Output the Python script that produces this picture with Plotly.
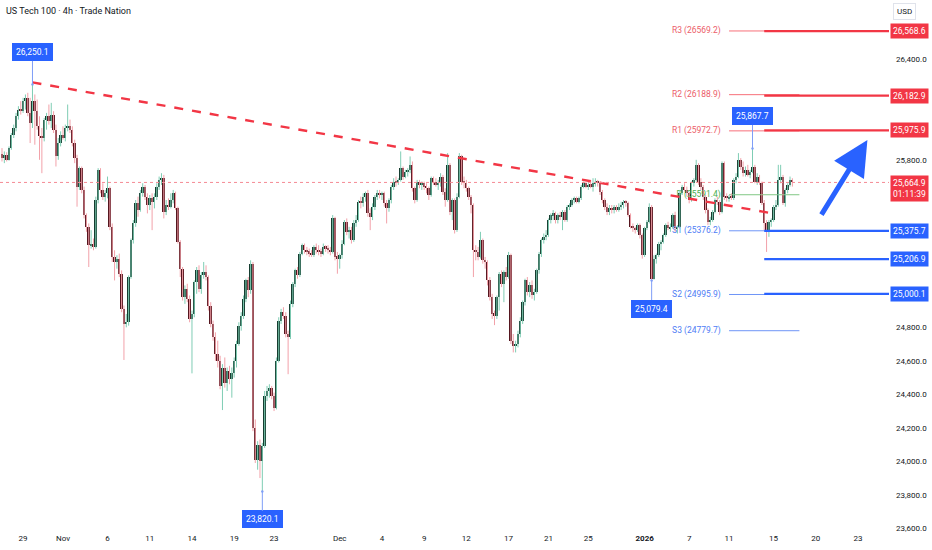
import plotly.graph_objects as go

# ---- calendar (4h bars per session day, Sunday evening bar counts as its own day)
days = ["Oct 27", "Oct 28", "Oct 29", "Oct 30", "Oct 31", "Nov 2",
        "Nov 3", "Nov 4", "Nov 5", "Nov 6", "Nov 7", "Nov 9",
        "Nov 10", "Nov 11", "Nov 12", "Nov 13", "Nov 14", "Nov 16",
        "Nov 17", "Nov 18", "Nov 19", "Nov 20", "Nov 21", "Nov 23",
        "Nov 24", "Nov 25", "Nov 26", "Nov 27", "Nov 28", "Nov 30",
        "Dec 1", "Dec 2", "Dec 3", "Dec 4", "Dec 5", "Dec 7",
        "Dec 8", "Dec 9", "Dec 10", "Dec 11", "Dec 12", "Dec 14",
        "Dec 15", "Dec 16", "Dec 17", "Dec 18", "Dec 19", "Dec 21",
        "Dec 22", "Dec 23", "Dec 24", "Dec 25", "Dec 26", "Dec 28",
        "Dec 29", "Dec 30", "Dec 31", "Jan 1", "Jan 2", "Jan 4",
        "Jan 5", "Jan 6", "Jan 7", "Jan 8", "Jan 9", "Jan 11",
        "Jan 12", "Jan 13", "Jan 14", "Jan 15", "Jan 16", "Jan 18",
        "Jan 19", "Jan 20", "Jan 21", "Jan 22", "Jan 23"]
bars_per_day = [3, 6, 6, 6, 5, 1,
                6, 6, 6, 6, 5, 1,
                6, 6, 6, 6, 5, 1,
                6, 6, 6, 6, 5, 1,
                6, 6, 6, 4, 4, 1,
                6, 6, 6, 6, 5, 1,
                6, 6, 6, 6, 5, 1,
                6, 6, 6, 6, 5, 1,
                6, 6, 4, 1, 5, 1,
                6, 6, 5, 1, 5, 1,
                6, 6, 6, 6, 5, 1,
                6, 6, 6, 6, 5, 1,
                6, 6, 6, 6, 5]

tick_days = ["Oct 29", "Nov 2", "Nov 6", "Nov 11", "Nov 14", "Nov 19", "Nov 23",
             "Dec 1", "Dec 4", "Dec 9", "Dec 12", "Dec 17", "Dec 21", "Dec 25",
             "Jan 1", "Jan 7", "Jan 11", "Jan 15", "Jan 20", "Jan 23"]
tick_text = ["29", "Nov", "6", "11", "14", "19", "23",
             "Dec", "4", "9", "12", "17", "21", "25",
             "<b>2026</b>", "7", "11", "15", "20", "23"]

# ---- US Tech 100, 4h candles
opens = [25835, 25810, 25830, 25800, 25870, 25950, 25990, 26060, 26100, 26090, 26150, 26170, 26080, 26020, 26150, 26090, 26000, 25940, 25930, 26040,
         26060, 26030, 26070, 25980, 25820, 25900, 25950, 25930, 25990, 26000, 25980, 25900, 25810, 25640, 25750, 25620, 25470, 25400, 25290, 25300,
         25280, 25560, 25740, 25620, 25580, 25600, 25630, 25400, 25220, 25190, 25210, 25120, 24910, 24820, 24830, 25100, 25320, 25420, 25540, 25500,
         25600, 25640, 25580, 25530, 25570, 25550, 25580, 25640, 25680, 25690, 25490, 25530, 25520, 25560, 25600, 25510, 25310, 25150, 24980, 25030,
         24970, 24850, 24880, 25070, 25140, 25030, 25110, 25130, 25100, 24930, 24820, 24740, 24640, 24600, 24450, 24560, 24470, 24540, 24490, 24530,
         24600, 24700, 24810, 24870, 24970, 25080, 25020, 25180, 24200, 24010, 24100, 24000, 24090, 24390, 24420, 24440, 24390, 24320, 24600, 24840,
         24890, 24870, 24760, 24740, 24940, 25060, 25140, 25110, 25240, 25290, 25260, 25250, 25240, 25230, 25280, 25260, 25250, 25240, 25280, 25270,
         25260, 25250, 25450, 25220, 25210, 25230, 25300, 25430, 25370, 25380, 25320, 25420, 25440, 25550, 25540, 25580, 25600, 25480, 25460, 25520,
         25580, 25600, 25590, 25600, 25540, 25510, 25560, 25640, 25670, 25660, 25680, 25750, 25700, 25730, 25740, 25770, 25630, 25560, 25670, 25650,
         25660, 25640, 25630, 25590, 25690, 25670, 25650, 25660, 25700, 25610, 25560, 25770, 25490, 25560, 25380, 25580, 25820, 25670, 25660, 25630,
         25580, 25530, 25260, 25250, 25220, 25320, 25200, 25190, 25080, 24980, 24880, 24870, 24980, 25120, 25060, 25130, 25100, 25230, 24720, 24690,
         24700, 24760, 24840, 24950, 25080, 25010, 25050, 24990, 25010, 25140, 25240, 25320, 25340, 25350, 25440, 25470, 25480, 25440, 25470, 25460,
         25490, 25440, 25520, 25530, 25560, 25570, 25550, 25570, 25640, 25660, 25640, 25650, 25640, 25660, 25670, 25660, 25610, 25560, 25520, 25490,
         25510, 25500, 25520, 25500, 25520, 25530, 25550, 25540, 25470, 25400, 25390, 25380, 25410, 25350, 25230, 25390, 25430, 25520, 25090, 25210,
         25230, 25300, 25310, 25350, 25410, 25390, 25400, 25470, 25390, 25400, 25600, 25640, 25620, 25600, 25560, 25660, 25680, 25770, 25670, 25640,
         25580, 25500, 25430, 25440, 25490, 25560, 25550, 25490, 25780, 25580, 25570, 25580, 25570, 25680, 25700, 25800, 25760, 25720, 25740, 25710,
         25730, 25760, 25670, 25700, 25660, 25540, 25420, 25380, 25430, 25440, 25520, 25530, 25680, 25700, 25540, 25620, 25650, 25680]
highs = [25870, 25850, 25845, 25880, 25960, 26010, 26080, 26120, 26150, 26170, 26190, 26200, 26170, 26250.1, 26190, 26160, 26060, 25990, 26050, 26080,
         26130, 26140, 26090, 26010, 25930, 25970, 26000, 26010, 26130, 26040, 26000, 25920, 25830, 25760, 25760, 25640, 25480, 25420, 25380, 25330,
         25580, 25750, 25750, 25660, 25620, 25700, 25640, 25420, 25260, 25230, 25240, 25140, 24930, 24880, 25110, 25330, 25440, 25560, 25580, 25620,
         25660, 25650, 25600, 25590, 25600, 25600, 25660, 25700, 25720, 25710, 25560, 25570, 25600, 25620, 25610, 25520, 25320, 25160, 25050, 25060,
         24990, 24900, 25080, 25160, 25170, 25130, 25190, 25170, 25110, 24950, 24840, 24770, 24720, 24630, 24580, 24620, 24560, 24570, 24560, 24620,
         24720, 24830, 24890, 24990, 25090, 25100, 25200, 25190, 24250, 24120, 24130, 24110, 24420, 24450, 24460, 24450, 24410, 24620, 24860, 24910,
         24920, 24890, 24780, 24960, 25070, 25150, 25160, 25250, 25300, 25300, 25280, 25270, 25260, 25290, 25300, 25290, 25270, 25300, 25290, 25290,
         25280, 25470, 25460, 25250, 25240, 25320, 25440, 25450, 25400, 25400, 25440, 25470, 25560, 25580, 25600, 25610, 25620, 25510, 25540, 25590,
         25620, 25620, 25610, 25610, 25560, 25570, 25650, 25690, 25700, 25690, 25850, 25760, 25740, 25750, 25820, 25790, 25640, 25680, 25680, 25670,
         25670, 25660, 25640, 25700, 25700, 25690, 25680, 25720, 25710, 25630, 25840, 25780, 25570, 25570, 25600, 25840, 25830, 25700, 25680, 25640,
         25590, 25540, 25290, 25280, 25370, 25330, 25220, 25200, 25100, 25000, 24900, 24990, 25130, 25140, 25140, 25160, 25250, 25240, 24760, 24720,
         24780, 24860, 24960, 25090, 25100, 25070, 25080, 25030, 25150, 25250, 25330, 25360, 25380, 25450, 25480, 25500, 25490, 25480, 25490, 25500,
         25500, 25530, 25540, 25570, 25580, 25580, 25580, 25650, 25670, 25670, 25670, 25680, 25690, 25690, 25680, 25670, 25620, 25570, 25540, 25530,
         25530, 25530, 25530, 25540, 25550, 25560, 25560, 25550, 25480, 25420, 25400, 25420, 25420, 25360, 25400, 25440, 25540, 25530, 25230, 25240,
         25310, 25320, 25360, 25420, 25430, 25420, 25480, 25490, 25410, 25620, 25650, 25660, 25640, 25610, 25670, 25690, 25800, 25780, 25690, 25650,
         25590, 25510, 25460, 25500, 25570, 25580, 25560, 25790, 25790, 25600, 25590, 25600, 25690, 25720, 25840, 25810, 25790, 25760, 25770, 25740,
         25867.7, 25770, 25720, 25710, 25670, 25560, 25440, 25440, 25450, 25530, 25560, 25770, 25770, 25710, 25630, 25660, 25700, 25690]
lows = [25790, 25780, 25790, 25795, 25860, 25930, 25970, 26040, 26070, 26080, 26100, 26060, 25900, 25990, 25890, 25980, 25800, 25720, 25910, 25980,
        26010, 25990, 25960, 25760, 25800, 25880, 25920, 25910, 25970, 25960, 25880, 25780, 25520, 25620, 25600, 25450, 25370, 25160, 25270, 25260,
        25270, 25540, 25600, 25560, 25550, 25570, 25380, 25190, 25080, 25150, 25100, 24890, 24605, 24800, 24810, 25090, 25300, 25400, 25460, 25490,
        25580, 25560, 25480, 25500, 25380, 25510, 25560, 25620, 25650, 25450, 25470, 25500, 25510, 25540, 25500, 25300, 25100, 24960, 24940, 24950,
        24830, 24525, 24860, 25000, 25010, 25000, 25090, 25080, 24900, 24800, 24720, 24600, 24560, 24430, 24306, 24440, 24420, 24460, 24380, 24500,
        24560, 24690, 24780, 24850, 24950, 24980, 25000, 24180, 23990, 23950, 23900, 23820.1, 24080, 24360, 24380, 24370, 24300, 24310, 24590, 24820,
        24850, 24740, 24520, 24730, 24920, 25040, 25090, 25100, 25230, 25240, 25230, 25220, 25220, 25220, 25240, 25230, 25220, 25230, 25250, 25240,
        25230, 25240, 25200, 25120, 25150, 25210, 25290, 25350, 25330, 25300, 25310, 25400, 25430, 25510, 25520, 25550, 25460, 25380, 25440, 25500,
        25560, 25570, 25560, 25520, 25420, 25490, 25540, 25620, 25640, 25650, 25670, 25680, 25690, 25700, 25720, 25610, 25540, 25550, 25630, 25620,
        25620, 25600, 25560, 25580, 25650, 25640, 25620, 25640, 25590, 25520, 25550, 25470, 25440, 25360, 25370, 25570, 25650, 25630, 25610, 25560,
        25480, 25100, 25200, 25200, 25210, 25180, 25150, 25050, 24960, 24850, 24813, 24850, 24900, 25040, 24950, 25080, 25090, 24700, 24650, 24650,
        24680, 24740, 24820, 24930, 24990, 24980, 24970, 24960, 25000, 25120, 25220, 25300, 25320, 25340, 25420, 25440, 25420, 25420, 25440, 25380,
        25430, 25430, 25500, 25520, 25540, 25540, 25540, 25560, 25630, 25630, 25620, 25630, 25610, 25640, 25640, 25590, 25540, 25500, 25470, 25470,
        25480, 25480, 25490, 25490, 25500, 25510, 25520, 25460, 25390, 25370, 25360, 25370, 25330, 25210, 25220, 25380, 25420, 25079.4, 25085, 25180,
        25220, 25260, 25300, 25340, 25380, 25370, 25390, 25370, 25360, 25390, 25590, 25610, 25580, 25540, 25550, 25640, 25670, 25650, 25620, 25560,
        25480, 25410, 25410, 25430, 25480, 25530, 25470, 25480, 25560, 25550, 25550, 25560, 25560, 25660, 25690, 25740, 25700, 25700, 25700, 25690,
        25720, 25660, 25650, 25650, 25530, 25380, 25250, 25340, 25400, 25430, 25500, 25520, 25660, 25530, 25520, 25600, 25640, 25640]
closes = [25810, 25830, 25800, 25870, 25950, 25990, 26060, 26100, 26090, 26150, 26170, 26080, 26020, 26150, 26090, 26000, 25940, 25930, 26040, 26060,
          26030, 26070, 25980, 25820, 25900, 25950, 25930, 25990, 26000, 25980, 25900, 25810, 25640, 25750, 25620, 25470, 25400, 25290, 25300, 25280,
          25560, 25740, 25620, 25580, 25600, 25630, 25400, 25220, 25190, 25210, 25120, 24910, 24820, 24830, 25100, 25320, 25420, 25540, 25500, 25600,
          25640, 25580, 25530, 25570, 25550, 25580, 25640, 25680, 25690, 25490, 25530, 25520, 25560, 25600, 25510, 25310, 25150, 24980, 25030, 24970,
          24850, 24880, 25070, 25140, 25030, 25110, 25130, 25100, 24930, 24820, 24740, 24640, 24600, 24450, 24560, 24470, 24540, 24490, 24530, 24600,
          24700, 24810, 24870, 24970, 25080, 25020, 25180, 24200, 24010, 24100, 24000, 24090, 24390, 24420, 24440, 24390, 24320, 24600, 24840, 24890,
          24870, 24760, 24740, 24940, 25060, 25140, 25110, 25240, 25290, 25260, 25250, 25240, 25230, 25280, 25260, 25250, 25240, 25280, 25270, 25260,
          25250, 25450, 25220, 25210, 25230, 25300, 25430, 25370, 25380, 25320, 25420, 25440, 25550, 25540, 25580, 25600, 25480, 25460, 25520, 25580,
          25600, 25590, 25600, 25540, 25510, 25560, 25640, 25670, 25660, 25680, 25750, 25700, 25730, 25740, 25770, 25630, 25560, 25670, 25650, 25660,
          25640, 25630, 25590, 25690, 25670, 25650, 25660, 25700, 25610, 25560, 25770, 25490, 25560, 25380, 25580, 25820, 25670, 25660, 25630, 25580,
          25530, 25260, 25250, 25220, 25320, 25200, 25190, 25080, 24980, 24880, 24870, 24980, 25120, 25060, 25130, 25100, 25230, 24720, 24690, 24700,
          24760, 24840, 24950, 25080, 25010, 25050, 24990, 25010, 25140, 25240, 25320, 25340, 25350, 25440, 25470, 25480, 25440, 25470, 25460, 25490,
          25440, 25520, 25530, 25560, 25570, 25550, 25570, 25640, 25660, 25640, 25650, 25640, 25660, 25670, 25660, 25610, 25560, 25520, 25490, 25510,
          25500, 25520, 25500, 25520, 25530, 25550, 25540, 25470, 25400, 25390, 25380, 25410, 25350, 25230, 25390, 25430, 25520, 25090, 25210, 25230,
          25300, 25310, 25350, 25410, 25390, 25400, 25470, 25390, 25400, 25600, 25640, 25620, 25600, 25560, 25660, 25680, 25770, 25670, 25640, 25580,
          25500, 25430, 25440, 25490, 25560, 25550, 25490, 25780, 25580, 25570, 25580, 25570, 25680, 25700, 25800, 25760, 25720, 25740, 25710, 25730,
          25760, 25670, 25700, 25660, 25540, 25420, 25380, 25430, 25440, 25520, 25530, 25680, 25700, 25540, 25620, 25650, 25680, 25664.9]
countdown = "01:11:39"

# ---- drawings
trend_bars = [13, 327]
trend_prices = [26262, 25484]

note_bars = [13, 111, 277, 320]           # price notes on swing highs / lows
note_kind = ["high", "low", "low", "high"]

pivot_names = ["R3", "R2", "R1", "P", "S1", "S2", "S3"]
pivot_values = [26569.2, 26188.9, 25972.7, 25591.4, 25376.2, 24995.9, 24779.7]
pivot_from, pivot_to = "Jan 11", "Jan 18"

ray_prices = [26568.6, 26182.9, 25975.9, 25375.7, 25206.9, 25000.1]
ray_start = 325

arrow_bars = [349, 369]
arrow_prices = [25464, 25918]

UP_BODY, DOWN_BODY = "#163d30", "#55161f"
UP_WICK, DOWN_WICK = "#7fcdb4", "#f2a1a9"
RED, BLUE, GREEN = "#f23645", "#2962ff", "#4caf50"
TXT = "#131722"
FONT = "Roboto"

# day -> first bar index
day_start = {}
pos = 0
for d, n in zip(days, bars_per_day):
    day_start[d] = pos
    pos += n
x_max = 378.2

xs = list(range(len(closes)))
up = [c >= o for o, c in zip(opens, closes)]

fig = go.Figure()

# pivot levels (drawn under the candles)
p0, p1 = day_start[pivot_from], day_start[pivot_to]
for name, val in zip(pivot_names, pivot_values):
    col = "#f7707a" if name.startswith("R") else ("#81c784" if name == "P" else "#6f95f7")
    tcol = "#ec5d69" if name.startswith("R") else ("#4caf50" if name == "P" else "#4f7df5")
    fig.add_trace(go.Scatter(x=[p0, p1], y=[val, val], mode="lines",
                             line=dict(color=col, width=1), hoverinfo="skip"))
    fig.add_trace(go.Scatter(x=[p0 - 3.5], y=[val], mode="text",
                             text=[f"{name} ({val:.1f})"], textposition="middle left",
                             textfont=dict(color=tcol, size=8.5, family=FONT), hoverinfo="skip"))

# wicks
for flag, col in [(True, UP_WICK), (False, DOWN_WICK)]:
    wx, wy = [], []
    for i in xs:
        if up[i] == flag:
            wx += [i, i, None]
            wy += [lows[i], highs[i], None]
    fig.add_trace(go.Scatter(x=wx, y=wy, mode="lines", line=dict(color=col, width=1),
                             hoverinfo="skip"))

# bodies
fig.add_trace(go.Bar(x=xs, y=[c - o for o, c in zip(opens, closes)], base=opens,
                     width=0.8,
                     marker=dict(color=[UP_BODY if u else DOWN_BODY for u in up],
                                 line=dict(width=0))))

# trend line
fig.add_trace(go.Scatter(x=trend_bars, y=trend_prices, mode="lines",
                         line=dict(color=RED, width=2.4, dash="dash")))

# horizontal rays
for i, p in enumerate(ray_prices):
    col = RED if i < 3 else BLUE
    fig.add_trace(go.Scatter(x=[ray_start, x_max], y=[p, p], mode="lines",
                             line=dict(color=col, width=2.2), hoverinfo="skip"))
    fig.add_annotation(x=1, xref="paper", xanchor="left", xshift=1, y=p, yref="y",
                       text=f"{p:,.1f}", showarrow=False, bgcolor=col,
                       font=dict(color="white", size=8.5, family=FONT), borderpad=2)

last = closes[-1]
fig.add_shape(type="line", xref="paper", x0=0, x1=1, y0=last, y1=last,
              line=dict(color="#f58a93", width=1, dash="dot"))
fig.add_annotation(x=1, xref="paper", xanchor="left", xshift=1, y=last, yref="y",
                   yanchor="top", yshift=7, align="left",
                   text=f"{last:,.1f}<br>{countdown}", showarrow=False, bgcolor=RED,
                   font=dict(color="white", size=8.5, family=FONT), borderpad=2)

# price notes
for b, k in zip(note_bars, note_kind):
    val = highs[b] if k == "high" else lows[b]
    fig.add_annotation(x=b, y=val, text=f"{val:,.1f}", showarrow=True,
                       ax=0, ay=-32 if k == "high" else 28,
                       arrowhead=6, arrowsize=0.6, arrowwidth=1, arrowcolor="#7f9ef7",
                       bgcolor=BLUE, bordercolor=BLUE, borderpad=3,
                       font=dict(color="white", size=8.5, family=FONT))

# forecast arrow
fig.add_annotation(x=arrow_bars[1], y=arrow_prices[1], ax=arrow_bars[0], ay=arrow_prices[0],
                   xref="x", yref="y", axref="x", ayref="y", text="", showarrow=True,
                   arrowhead=2, arrowsize=1.4, arrowwidth=5, arrowcolor=BLUE)

# title and currency
fig.add_annotation(x=0, xref="paper", xanchor="left", xshift=4, y=1, yref="paper",
                   yanchor="top", yshift=-4, showarrow=False,
                   text="US Tech 100 · 4h · Trade Nation",
                   font=dict(color=TXT, size=9, family=FONT))
fig.add_annotation(x=1, xref="paper", xanchor="left", xshift=4, y=1, yref="paper",
                   yanchor="top", yshift=-3, showarrow=False, text="USD",
                   bordercolor="#e0e3eb", borderwidth=1, borderpad=3, bgcolor="white",
                   font=dict(color=TXT, size=8, family=FONT))

fig.update_layout(
    width=932, height=550,
    margin=dict(l=0, r=43, t=0, b=18),
    plot_bgcolor="white", paper_bgcolor="white",
    showlegend=False, bargap=0,
    xaxis=dict(range=[-0.85, x_max], showgrid=False, zeroline=False, showline=False,
               tickmode="array", tickvals=[day_start[d] for d in tick_days], ticktext=tick_text,
               tickfont=dict(color=TXT, size=8, family=FONT), ticks=""),
    yaxis=dict(side="right", range=[23578, 26754], dtick=200, tick0=0, tickformat=",.1f",
               showgrid=False, zeroline=False, showline=False, ticks="",
               tickfont=dict(color=TXT, size=8, family=FONT), ticklabelstandoff=6),
)

# the page body has a default 8px margin; drop it so the figure fills the window
fig.write_html("out.html", config={"displayModeBar": False},
               post_script="document.body.style.margin='0';")
